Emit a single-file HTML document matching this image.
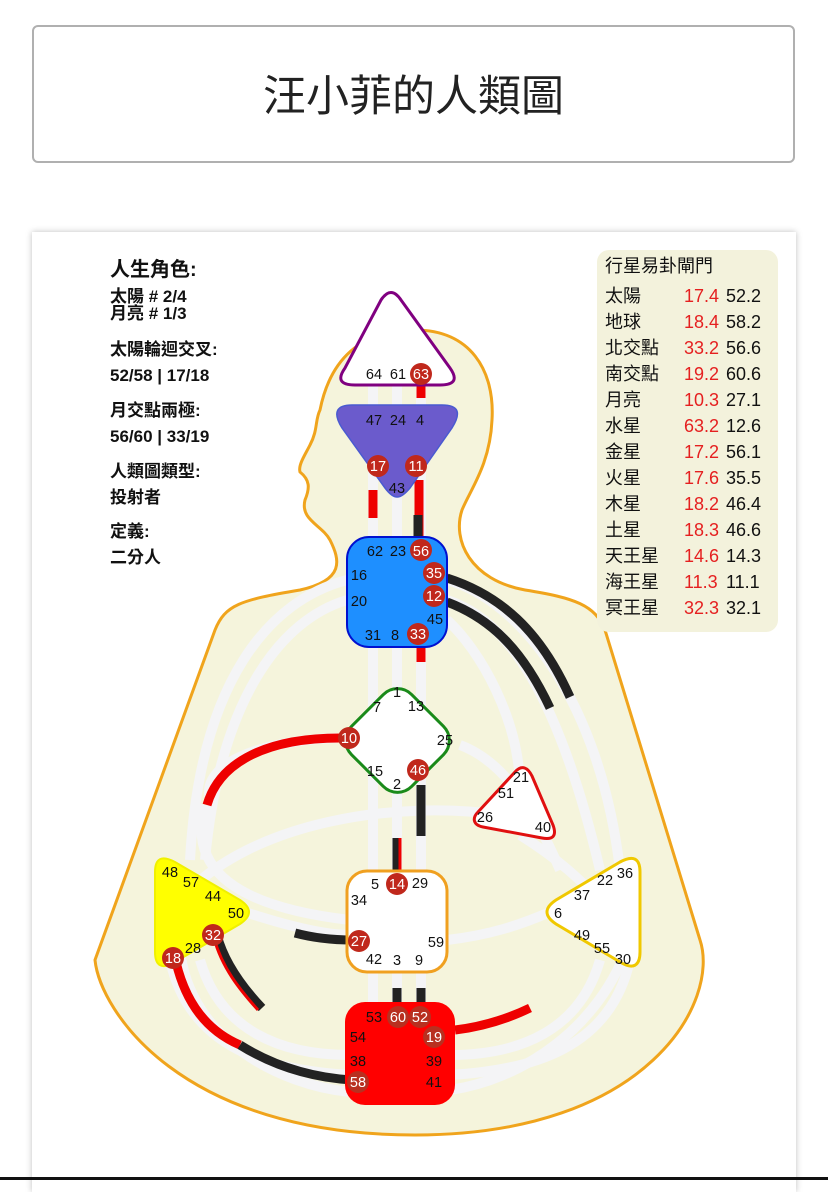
<!DOCTYPE html>
<html><head><meta charset="utf-8">
<style>
html,body{margin:0;padding:0;background:#fff;}
body{width:828px;height:1180px;position:relative;overflow:hidden;font-family:"Liberation Sans","Noto Sans CJK TC",sans-serif;}
.title{position:absolute;left:32px;top:25px;width:763px;height:138px;border:2px solid #b0b0b0;border-radius:6px;box-sizing:border-box;text-align:center;line-height:140px;font-size:43px;color:#222;}
.card{position:absolute;left:32px;top:232px;width:764px;height:960px;background:#fff;box-shadow:0 0 6px rgba(0,0,0,0.25);}
.bar{position:absolute;left:0;top:1177px;width:828px;height:3px;background:#111;}
</style></head><body>
<div class="title">汪小菲的人類圖</div>
<div class="card"></div>
<svg style="position:absolute;left:0;top:0" width="828" height="1180" xmlns="http://www.w3.org/2000/svg" font-family="Liberation Sans, Noto Sans CJK TC, sans-serif">
<path d="M415,330 C470,330 495,370 492,420 C490,465 470,490 462,510 C452,540 470,580 525,590 C575,598 595,605 605,630 L700,940 C720,1000 650,1135 415,1135 C180,1135 100,1010 95,960 L215,630 C225,605 240,600 300,590 C345,580 340,560 330,540 C322,525 300,520 305,500 C310,488 310,480 300,472 C298,465 305,455 310,445 C318,430 315,420 320,410 C330,360 360,330 415,330 Z" fill="#f5f4dc" stroke="#f0a41c" stroke-width="3"/>
<rect x="597" y="250" width="181" height="382" rx="12" fill="#f3f2dc"/>
<g fill="none" stroke="#f4f4f6" stroke-width="10">
<line x1="373" y1="380" x2="373" y2="1010"/><line x1="397" y1="380" x2="397" y2="1010"/><line x1="421" y1="380" x2="421" y2="1010"/>
<path d="M347,580 C270,600 200,680 190,860"/>
<path d="M347,600 C280,620 220,700 205,860"/>
<path d="M447,580 C520,600 600,700 620,870"/>
<path d="M447,600 C510,620 560,700 600,870"/>
<path d="M447,620 C480,650 520,720 520,790"/>
<path d="M170,960 C190,1050 270,1070 350,1075"/>
<path d="M200,960 C220,1030 280,1055 350,1055"/>
<path d="M630,960 C610,1050 530,1070 450,1075"/>
<path d="M600,960 C580,1030 520,1055 450,1055"/>
<path d="M630,940 C600,1030 520,1080 450,1090"/>
<path d="M180,950 C190,1040 280,1085 350,1092"/>
<path d="M205,805 C190,860 220,905 350,920"/>
<path d="M210,800 C200,760 270,740 337,738"/>
<path d="M180,900 C250,820 400,800 500,815"/>
<path d="M245,912 C300,930 330,935 350,935"/>
<path d="M447,940 C490,935 520,925 550,912"/>
<path d="M460,745 C500,760 530,800 560,870"/>
<path d="M520,835 C560,860 580,880 600,900"/>
</g>
<g fill="none" stroke-width="9">
<line x1="421" y1="383" x2="421" y2="398" stroke="#e00"/>
<line x1="373" y1="490" x2="373" y2="518" stroke="#e00"/>
<line x1="419" y1="480" x2="419" y2="537" stroke="#e00"/>
<line x1="418" y1="515" x2="418" y2="540" stroke="#222"/>
<line x1="421" y1="647" x2="421" y2="662" stroke="#e00"/>
<line x1="421" y1="785" x2="421" y2="836" stroke="#222"/>
<line x1="397" y1="838" x2="397" y2="880" stroke="#222"/>
<line x1="400" y1="838" x2="400" y2="880" stroke="#e00" stroke-width="3"/>
<line x1="397" y1="988" x2="397" y2="1005" stroke="#222"/>
<line x1="421" y1="988" x2="421" y2="1005" stroke="#222"/>
<path d="M447,578 C500,595 540,630 570,697" stroke="#222"/>
<path d="M447,602 C495,620 525,655 550,708" stroke="#222"/>
<path d="M340,738 C270,738 220,760 207,805" stroke="#e00"/>
<path d="M352,940 C330,940 310,937 295,933" stroke="#222"/>
<path d="M217,935 C225,965 245,990 262,1008" stroke="#222"/>
<path d="M214,938 C222,968 240,990 258,1010" stroke="#e00" stroke-width="3"/>
<path d="M176,962 C185,1000 205,1030 240,1045" stroke="#e00"/>
<path d="M240,1045 C280,1070 320,1078 352,1080" stroke="#222"/>
<path d="M455,1030 C480,1027 505,1020 530,1008" stroke="#e00"/>
</g>
<path d="M381,300 Q391,285 401,300 L450,368 Q462,385 440,385 L355,385 Q333,385 345,368 Z" fill="#fff" stroke="#800080" stroke-width="3"/>
<path d="M352,405 L442,405 C458,405 462,412 452,428 L410,488 C400,500 394,500 385,488 L342,428 C332,412 337,405 352,405Z" fill="#6b5bcc" stroke="#4a5ad0" stroke-width="1.5"/>
<rect x="347" y="537" width="100" height="110" rx="22" fill="#1e8fff" stroke="#0010d0" stroke-width="2"/>
<rect x="355" y="698" width="85" height="85" rx="20" transform="rotate(45 397.5 740.5)" fill="#fff" stroke="#1a8a1a" stroke-width="3"/>
<path d="M515,772 C522,764 528,768 532,776 L553,825 C557,836 553,840 542,838 L483,827 C473,825 472,818 478,812Z" fill="#fff" stroke="#e01010" stroke-width="3"/>
<rect x="347" y="871" width="100" height="101" rx="20" fill="#fff" stroke="#f0a020" stroke-width="3"/>
<path d="M155,872 C155,858 162,855 175,862 L240,900 C252,908 252,916 240,924 L175,962 C162,970 155,966 155,952Z" fill="#ffff00" stroke="#f0f000" stroke-width="2"/>
<path d="M640,872 C640,858 633,855 620,862 L556,900 C544,908 544,916 556,924 L620,962 C633,970 640,966 640,952Z" fill="#fff" stroke="#f0c800" stroke-width="3"/>
<rect x="345" y="1002" width="110" height="103" rx="20" fill="#ff0000"/>
<g fill="#c0281c">
<circle cx="421" cy="374" r="11"/><circle cx="378" cy="466" r="11"/><circle cx="416" cy="466" r="11"/>
<circle cx="421" cy="550" r="11"/><circle cx="434" cy="573" r="11"/><circle cx="434" cy="596" r="11"/><circle cx="418" cy="634" r="11"/>
<circle cx="349" cy="738" r="11"/><circle cx="418" cy="770" r="11"/><circle cx="397" cy="884" r="11"/><circle cx="359" cy="941" r="11"/>
<circle cx="213" cy="935" r="11"/><circle cx="173" cy="958" r="11"/>
<circle cx="398" cy="1017" r="11" fill="#b83020"/><circle cx="420" cy="1017" r="11" fill="#b83020"/><circle cx="434" cy="1037" r="11" fill="#b83020"/><circle cx="358" cy="1082" r="11" fill="#b83020"/>
</g>
<g font-size="14.5" fill="#111" text-anchor="middle">
<text x="374" y="379">64</text><text x="398" y="379">61</text><text x="421" y="379" fill="#fff">63</text>
<text x="374" y="425">47</text><text x="398" y="425">24</text><text x="420" y="425">4</text>
<text x="378" y="471" fill="#fff">17</text><text x="416" y="471" fill="#fff">11</text><text x="397" y="493">43</text>
<text x="375" y="556">62</text><text x="398" y="556">23</text><text x="421" y="556" fill="#fff">56</text>
<text x="359" y="580">16</text><text x="434" y="578" fill="#fff">35</text>
<text x="359" y="606">20</text><text x="434" y="601" fill="#fff">12</text><text x="435" y="624">45</text>
<text x="373" y="640">31</text><text x="395" y="640">8</text><text x="418" y="639" fill="#fff">33</text>
<text x="397" y="697">1</text><text x="377" y="712">7</text><text x="416" y="711">13</text><text x="445" y="745">25</text>
<text x="349" y="743" fill="#fff">10</text><text x="375" y="776">15</text><text x="397" y="789">2</text><text x="418" y="775" fill="#fff">46</text>
<text x="521" y="782">21</text><text x="506" y="798">51</text><text x="485" y="822">26</text><text x="543" y="832">40</text>
<text x="375" y="889">5</text><text x="397" y="889" fill="#fff">14</text><text x="420" y="888">29</text><text x="359" y="905">34</text>
<text x="359" y="946" fill="#fff">27</text><text x="436" y="947">59</text>
<text x="374" y="964">42</text><text x="397" y="965">3</text><text x="419" y="965">9</text>
<text x="170" y="877">48</text><text x="191" y="887">57</text><text x="213" y="901">44</text><text x="236" y="918">50</text>
<text x="213" y="940" fill="#fff">32</text><text x="193" y="953">28</text><text x="173" y="963" fill="#fff">18</text>
<text x="625" y="878">36</text><text x="605" y="885">22</text><text x="582" y="900">37</text><text x="558" y="918">6</text>
<text x="582" y="940">49</text><text x="602" y="953">55</text><text x="623" y="964">30</text>
<text x="374" y="1022">53</text><text x="398" y="1022" fill="#fff">60</text><text x="420" y="1022" fill="#fff">52</text>
<text x="358" y="1042">54</text><text x="434" y="1042" fill="#fff">19</text>
<text x="358" y="1066">38</text><text x="434" y="1066">39</text>
<text x="358" y="1087" fill="#fff">58</text><text x="434" y="1087">41</text>
</g>
<g font-weight="bold" fill="#111">
<text x="110" y="276" font-size="20">人生角色:</text>
<text x="110" y="302" font-size="17">太陽 # 2/4</text>
<text x="110" y="319" font-size="17">月亮 # 1/3</text>
<text x="110" y="355" font-size="17">太陽輪迴交叉:</text>
<text x="110" y="381" font-size="17">52/58 | 17/18</text>
<text x="110" y="416" font-size="17">月交點兩極:</text>
<text x="110" y="442" font-size="17">56/60 | 33/19</text>
<text x="110" y="477" font-size="17">人類圖類型:</text>
<text x="110" y="503" font-size="17">投射者</text>
<text x="110" y="537" font-size="17">定義:</text>
<text x="110" y="563" font-size="17">二分人</text>
</g>
<g font-size="18" fill="#111">
<text x="605" y="272">行星易卦閘門</text>
<text x="605" y="302">太陽</text><text x="684" y="302" fill="#e52020">17.4</text><text x="726" y="302">52.2</text>
<text x="605" y="328">地球</text><text x="684" y="328" fill="#e52020">18.4</text><text x="726" y="328">58.2</text>
<text x="605" y="354">北交點</text><text x="684" y="354" fill="#e52020">33.2</text><text x="726" y="354">56.6</text>
<text x="605" y="380">南交點</text><text x="684" y="380" fill="#e52020">19.2</text><text x="726" y="380">60.6</text>
<text x="605" y="406">月亮</text><text x="684" y="406" fill="#e52020">10.3</text><text x="726" y="406">27.1</text>
<text x="605" y="432">水星</text><text x="684" y="432" fill="#e52020">63.2</text><text x="726" y="432">12.6</text>
<text x="605" y="458">金星</text><text x="684" y="458" fill="#e52020">17.2</text><text x="726" y="458">56.1</text>
<text x="605" y="484">火星</text><text x="684" y="484" fill="#e52020">17.6</text><text x="726" y="484">35.5</text>
<text x="605" y="510">木星</text><text x="684" y="510" fill="#e52020">18.2</text><text x="726" y="510">46.4</text>
<text x="605" y="536">土星</text><text x="684" y="536" fill="#e52020">18.3</text><text x="726" y="536">46.6</text>
<text x="605" y="562">天王星</text><text x="684" y="562" fill="#e52020">14.6</text><text x="726" y="562">14.3</text>
<text x="605" y="588">海王星</text><text x="684" y="588" fill="#e52020">11.3</text><text x="726" y="588">11.1</text>
<text x="605" y="614">冥王星</text><text x="684" y="614" fill="#e52020">32.3</text><text x="726" y="614">32.1</text>
</g>
</svg>
<div class="bar"></div>
</body></html>
